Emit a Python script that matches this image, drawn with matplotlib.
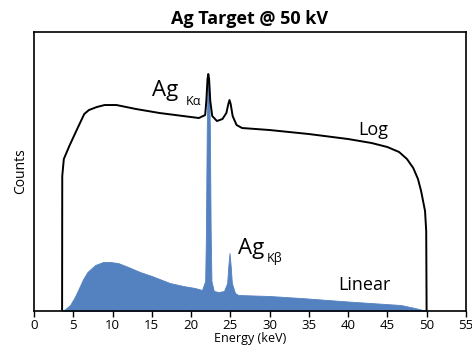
import numpy as np
import matplotlib.pyplot as plt

plt.rcParams['font.family'] = ['Open Sans', 'DejaVu Sans']

# Linear spectrum (arbitrary counts)
lin_e = [3.6, 4.0, 4.6, 5.2, 5.8, 6.2, 6.8, 7.8, 8.8, 9.7, 10.7, 12.0, 13.5, 15.0,
         17.3, 19.0, 20.5, 21.4, 21.8, 21.9, 22.0, 22.1, 22.2, 22.3, 22.4, 22.5,
         22.6, 22.9, 23.5, 24.2, 24.6, 24.75, 24.9, 25.05, 25.2, 25.6, 26.0,
         30.0, 34.0, 40.0, 46.7, 48.5, 50.0]
lin_c = [0, 2, 6, 14, 24, 31, 39, 46, 49, 49, 48, 44, 39, 35,
         28, 25, 23, 21, 30, 80, 180, 225, 234, 225, 180, 80,
         30, 20, 19, 20, 28, 45, 58, 45, 28, 18, 16,
         15, 13, 9.5, 6, 3, 0]

# Log spectrum (display units)
log_e = [3.58, 3.6, 3.8, 4.5, 5.5, 6.4, 7.0, 8.0, 9.0, 10.5, 13.0, 16.0, 19.0,
         21.0, 21.8, 21.95, 22.1, 22.2, 22.3, 22.45, 22.7, 23.3, 24.0, 24.5,
         24.75, 24.9, 25.05, 25.3, 25.8, 26.5, 30.0, 35.0, 40.0, 43.0, 45.0,
         46.5, 47.5, 48.3, 48.9, 49.3, 49.6, 49.8, 49.95, 50.0]
log_c = [0, 135, 152, 165, 182, 197, 201, 204, 206, 206, 202, 198, 195,
         193, 196, 210, 232, 237, 232, 210, 195, 190, 192, 198,
         207, 211, 207, 195, 186, 183, 181, 177, 172, 168, 164,
         159, 152, 143, 132, 120, 108, 100, 80, 0]

fig = plt.figure(figsize=(4.72, 3.52), dpi=100)
ax = fig.add_axes([0.072, 0.1165, 0.915, 0.7925])

ax.fill_between(lin_e, lin_c, 0, color='#5482c0', linewidth=0.6, edgecolor='#5482c0')
ax.plot(log_e, log_c, color='black', linewidth=1.4)

ax.set_xlim(0, 55)
ax.set_ylim(0, 279)
ax.set_xticks(range(0, 56, 5))
ax.set_yticks([])
ax.tick_params(axis='x', direction='out', length=4, width=1, labelsize=9.5, pad=2)
for s in ax.spines.values():
    s.set_linewidth(1.2)

ax.set_xlabel('Energy (keV)', fontsize=9, labelpad=0)
ax.set_ylabel('Counts', fontsize=10, labelpad=4)
ax.set_title('Ag Target @ 50 kV', fontsize=13, fontweight='bold', pad=6)

ax.text(15.0, 221, 'Ag', fontsize=16, ha='left', va='center')
ax.text(19.3, 210, 'K\u03b1', fontsize=9, ha='left', va='center')
ax.text(26.0, 63, 'Ag', fontsize=16, ha='left', va='center')
ax.text(29.7, 52, 'K\u03b2', fontsize=9, ha='left', va='center')
ax.text(43.2, 181, 'Log', fontsize=13, ha='center', va='center')
ax.text(42.1, 26, 'Linear', fontsize=13, ha='center', va='center')

fig.savefig('out.png', dpi=100)
